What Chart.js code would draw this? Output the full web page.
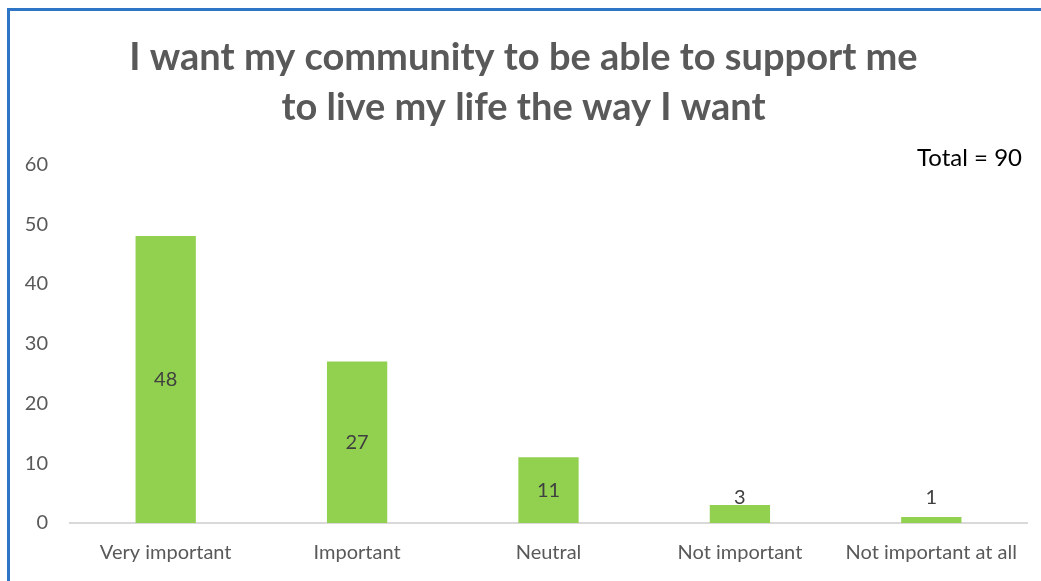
<!doctype html>
<html lang="en">
<head>
<meta charset="utf-8">
<title>Community support</title>
<script src="https://cdn.jsdelivr.net/npm/chart.js@4"></script>
<style>
  html, body { margin: 0; padding: 0; background: #fff; overflow: hidden; }
  #frame {
    position: absolute; left: 7px; top: 8px;
    width: 1048px; height: 590px;
    border-left: 3px solid #2e75c6; border-top: 3px solid #2e75c6;
  }
  #wrap { position: absolute; left: 0; top: 0; width: 1045px; height: 570px; }
</style>
</head>
<body>
<div id="frame"><div id="wrap"><canvas id="bars"></canvas></div></div>
<script>
const categories = ['Very important', 'Important', 'Neutral', 'Not important', 'Not important at all'];
const counts = [48, 27, 11, 3, 1];
const totalText = 'Total = 90';
const titleLines = ['I want my community to be able to support me', 'to live my life the way I want'];

const grey = '#595959';
const fontFace = 'Lato, "Open Sans", sans-serif';

// value labels sit in the middle of each bar, but never lower than a fixed height above the axis
const valueLabels = {
  id: 'valueLabels',
  afterDatasetsDraw(chart) {
    const ctx = chart.ctx;
    const meta = chart.getDatasetMeta(0);
    const base = chart.scales.y.getPixelForValue(0);
    ctx.save();
    ctx.font = '20px ' + fontFace;
    ctx.fillStyle = '#404040';
    ctx.textAlign = 'center';
    ctx.textBaseline = 'middle';
    meta.data.forEach((bar, i) => {
      const mid = (bar.y + base) / 2;
      ctx.fillText(String(counts[i]), bar.x, Math.min(mid, base - 25));
    });
    // total note in the top right corner
    ctx.font = '24px ' + fontFace;
    ctx.fillStyle = '#000';
    ctx.textAlign = 'right';
    ctx.fillText(totalText, chart.chartArea.right - 5, chart.chartArea.top - 6);
    ctx.restore();
  }
};

new Chart(document.getElementById('bars'), {
  type: 'bar',
  data: {
    labels: categories,
    datasets: [{
      data: counts,
      backgroundColor: '#92d050',
      borderWidth: 0,
      barPercentage: 0.315,
      categoryPercentage: 1
    }]
  },
  options: {
    responsive: true,
    maintainAspectRatio: false,
    animation: false,
    layout: { padding: { left: 10, right: 28, bottom: 6, top: 0 } },
    plugins: {
      legend: { display: false },
      tooltip: { enabled: false },
      title: {
        display: true,
        text: titleLines,
        color: grey,
        font: { family: fontFace, size: 38, weight: 'bold', lineHeight: 1.32 },
        padding: { top: 22, bottom: 31 }
      }
    },
    scales: {
      x: {
        grid: { display: false, drawTicks: false },
        border: { display: true, color: '#d9d9d9', width: 2 },
        ticks: { color: grey, font: { family: fontFace, size: 20 }, padding: 18, maxRotation: 0 },
        afterFit(scale) { scale.height = 52; }
      },
      y: {
        min: 0, max: 60,
        grid: { display: false, drawTicks: false },
        border: { display: false },
        ticks: { stepSize: 10, color: grey, font: { family: fontFace, size: 20 }, padding: 22 },
        afterFit(scale) { scale.width = 50; }
      }
    }
  },
  plugins: [valueLabels]
});
</script>
</body>
</html>
